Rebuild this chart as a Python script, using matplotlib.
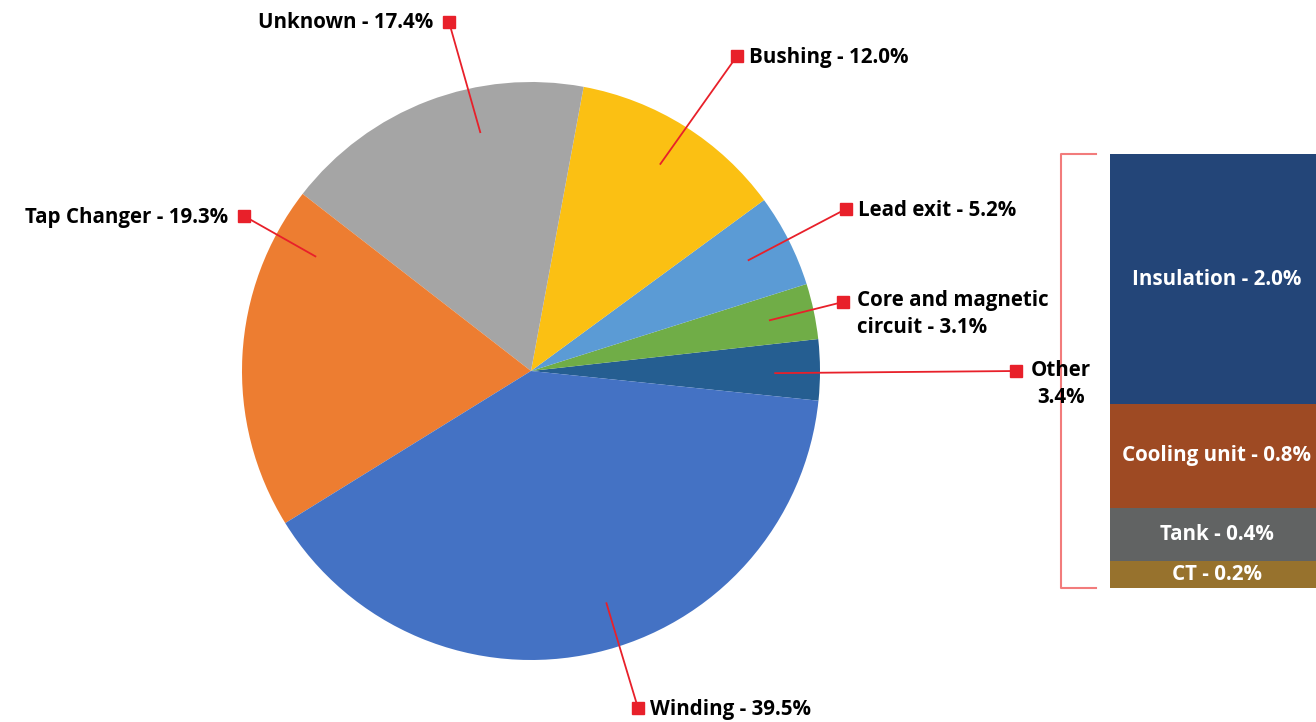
import numpy as np
import matplotlib
matplotlib.use("Agg")
from matplotlib import pyplot as plt

# pie data (counter-clockwise from the right)
pie_names = ["Other", "Core and magnetic\ncircuit", "Lead exit", "Bushing",
             "Unknown", "Tap Changer", "Winding"]
pie_values = [3.4, 3.1, 5.2, 12.0, 17.4, 19.3, 39.5]
pie_colors = ["#255E91", "#70AD47", "#5B9BD5", "#FBC013",
              "#A5A5A5", "#ED7D31", "#4472C4"]

# breakdown of "Other" (labels rounded to 0.1)
bar_names = ["Insulation", "Cooling unit", "Tank", "CT"]
bar_values = [1.96, 0.81, 0.42, 0.21]
bar_colors = ["#234578", "#9E4A23", "#616363", "#97722D"]

W, H = 1316, 722
red = "#E8202A"

plt.rcParams['font.family'] = ['Open Sans', 'DejaVu Sans']
plt.rcParams['font.weight'] = 'bold'

fig = plt.figure(figsize=(W / 100, H / 100), dpi=100)
ax = fig.add_axes([0, 0, 1, 1])


def Y(y):
    return H - y


cx, cy, R = 531, Y(371), 289
start = -5.9
ax.pie(pie_values, colors=pie_colors, startangle=start, counterclock=True,
       radius=R, center=(cx, cy), wedgeprops=dict(linewidth=0))

# label layout: anchor angle on the pie, marker position
anchor_ang = [-0.5, 12, 27, 58, 102, 152, 288]
marker_pos = [(1016, 371), (843, 302), (846, 209), (737, 56),
              (449, 22), (244, 216), (638, 708)]
fs = 14.8

for i, (name, val) in enumerate(zip(pie_names, pie_values)):
    a = np.deg2rad(anchor_ang[i])
    ax0 = cx + 0.845 * R * np.cos(a)
    ay0 = cy + 0.845 * R * np.sin(a)
    mx, my = marker_pos[i]
    ax.plot([ax0, mx], [ay0, Y(my)], color=red, lw=1.3, zorder=3)
    ax.plot(mx, Y(my), marker="s", ms=8, color=red, zorder=4)
    if name == "Other":
        ax.text(1061, Y(360), f"{name}\n{val:.1f}%", ha="center", va="top",
                fontsize=fs, fontweight="bold", linespacing=1.35)
    elif mx < cx - 50:
        ax.text(mx - 16, Y(my + 1), f"{name} - {val:.1f}%", ha="right", va="center",
                fontsize=fs, fontweight="bold")
    elif "\n" in name:
        ax.text(mx + 14, Y(290), f"{name} - {val:.1f}%", ha="left", va="top",
                fontsize=fs, fontweight="bold", linespacing=1.35)
    else:
        ax.text(mx + 12, Y(my + 1), f"{name} - {val:.1f}%", ha="left", va="center",
                fontsize=fs, fontweight="bold")

# stacked bar for "Other"
bar_top, bar_bot = 154, 588
scale = (bar_bot - bar_top) / sum(bar_values)
top = Y(bar_top)
for name, val, col in zip(bar_names, bar_values, bar_colors):
    h = val * scale
    ax.bar(1217, h, bottom=top - h, width=214, color=col, linewidth=0)
    ax.text(1217, top - h / 2, f"{name} - {val:.1f}%", ha="center", va="center",
            color="white", fontsize=fs, fontweight="bold")
    top -= h

# bracket
bc = "#F27C7C"
ax.plot([1096, 1061, 1061, 1096], [Y(bar_top), Y(bar_top), Y(bar_bot), Y(bar_bot)],
        color=bc, lw=1.5)

ax.set_xlim(0, W)
ax.set_ylim(0, H)
ax.set_aspect("equal")
ax.axis("off")

fig.savefig("out.png", dpi=100)
